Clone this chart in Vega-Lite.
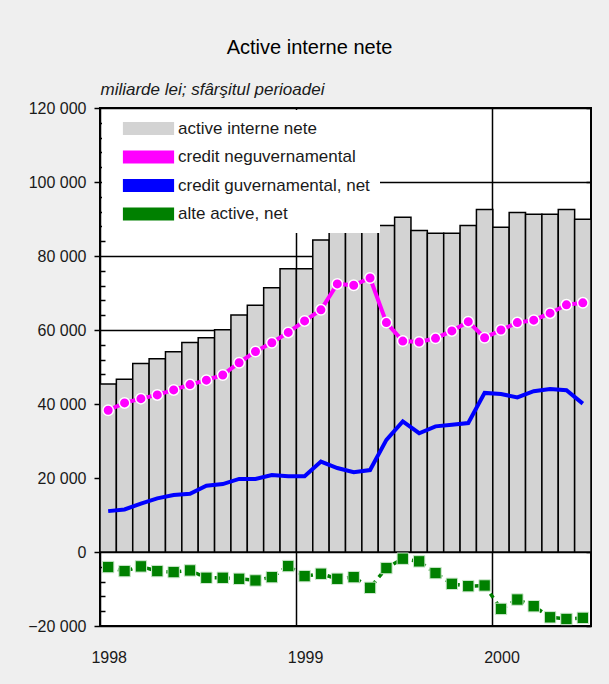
{
  "$schema": "https://vega.github.io/schema/vega-lite/v6.json",
  "width": 491,
  "height": 518,
  "autosize": {"type": "none"},
  "padding": {"left": 100, "top": 108, "right": 18, "bottom": 58},
  "background": "#efefef",
  "title": {
    "text": "Active interne nete",
    "anchor": "middle",
    "dx": -36,
    "fontSize": 20,
    "fontWeight": "normal",
    "font": "Liberation Sans",
    "color": "black",
    "offset": 22
  },
  "data": {
    "values": [
      {"m": "1998-01", "a": 45400, "n": 38300, "g": 11050, "o": -4070},
      {"m": "1998-02", "a": 46700, "n": 40300, "g": 11500, "o": -5160},
      {"m": "1998-03", "a": 50960, "n": 41450, "g": 13100, "o": -3890},
      {"m": "1998-04", "a": 52200, "n": 42450, "g": 14500, "o": -5160},
      {"m": "1998-05", "a": 54100, "n": 43800, "g": 15400, "o": -5430},
      {"m": "1998-06", "a": 56650, "n": 45250, "g": 15750, "o": -4980},
      {"m": "1998-07", "a": 57900, "n": 46450, "g": 17900, "o": -6970},
      {"m": "1998-08", "a": 60100, "n": 47850, "g": 18350, "o": -6970},
      {"m": "1998-09", "a": 64050, "n": 51150, "g": 19750, "o": -7240},
      {"m": "1998-10", "a": 66700, "n": 54200, "g": 19750, "o": -7690},
      {"m": "1998-11", "a": 71400, "n": 56550, "g": 20800, "o": -6790},
      {"m": "1998-12", "a": 76550, "n": 59350, "g": 20450, "o": -3800},
      {"m": "1999-01", "a": 76550, "n": 62450, "g": 20450, "o": -6520},
      {"m": "1999-02", "a": 84350, "n": 65450, "g": 24450, "o": -5880},
      {"m": "1999-03", "a": 88300, "n": 72450, "g": 22700, "o": -7240},
      {"m": "1999-04", "a": 87000, "n": 72100, "g": 21550, "o": -6790},
      {"m": "1999-05", "a": 87000, "n": 74050, "g": 22150, "o": -9680},
      {"m": "1999-06", "a": 88250, "n": 62000, "g": 30300, "o": -4340},
      {"m": "1999-07", "a": 90500, "n": 57000, "g": 35300, "o": -1810},
      {"m": "1999-08", "a": 86900, "n": 56750, "g": 32100, "o": -2530},
      {"m": "1999-09", "a": 86150, "n": 57750, "g": 33950, "o": -5700},
      {"m": "1999-10", "a": 86150, "n": 59750, "g": 34400, "o": -8600},
      {"m": "1999-11", "a": 88250, "n": 62250, "g": 34850, "o": -9230},
      {"m": "1999-12", "a": 92550, "n": 57900, "g": 43000, "o": -9050},
      {"m": "2000-01", "a": 87800, "n": 60000, "g": 42700, "o": -15380},
      {"m": "2000-02", "a": 91750, "n": 62000, "g": 41800, "o": -12850},
      {"m": "2000-03", "a": 91300, "n": 62650, "g": 43450, "o": -14650},
      {"m": "2000-04", "a": 91300, "n": 64550, "g": 44050, "o": -17650},
      {"m": "2000-05", "a": 92550, "n": 66800, "g": 43700, "o": -18100},
      {"m": "2000-06", "a": 89950, "n": 67350, "g": 40100, "o": -17800}
    ]
  },
  "encoding": {
    "x": {
      "field": "m",
      "type": "ordinal",
      "scale": {"paddingInner": 0, "paddingOuter": 0},
      "axis": {
        "title": null,
        "values": ["1998-01", "1999-01", "2000-01"],
        "bandPosition": 0,
        "labelExpr": "substring(datum.value, 0, 4)",
        "labelAngle": 0,
        "labelOffset": 1,
        "labelPadding": 23,
        "labelFontSize": 16,
        "labelColor": "#1a1a1a",
        "ticks": false,
        "domain": false,
        "grid": true,
        "gridColor": "black",
        "gridWidth": 1.5,
        "gridOpacity": 1
      }
    }
  },
  "layer": [
    {
      "mark": {"type": "bar", "stroke": "black", "strokeWidth": 1.5},
      "encoding": {
        "y": {
          "field": "a",
          "type": "quantitative",
          "scale": {"domain": [-20000, 120000], "nice": false},
          "axis": {
            "orient": "left",
            "title": "miliarde lei; sfârşitul perioadei",
            "titleAngle": 0,
            "titleAlign": "left",
            "titleBaseline": "alphabetic",
            "titleX": 0,
            "titleY": -14,
            "titleFontSize": 17,
            "titleFontStyle": "italic",
            "titleFontWeight": "normal",
            "titleColor": "#1a1a1a",
            "values": [-20000, -16000, -12000, -8000, -4000, 0, 4000, 8000, 12000, 16000, 20000, 24000, 28000, 32000, 36000, 40000, 44000, 48000, 52000, 56000, 60000, 64000, 68000, 72000, 76000, 80000, 84000, 88000, 92000, 96000, 100000, 104000, 108000, 112000, 116000, 120000],
            "tickCount": 100,
            "labelExpr": "datum.value % 20000 === 0 ? replace(format(datum.value, ',d'), ',', ' ') : ''",
            "labelOverlap": false,
            "labelFlush": false,
            "labelFontSize": 16,
            "labelColor": "#1a1a1a",
            "labelPadding": 8,
            "domain": false,
            "tickColor": "black",
            "tickWidth": 1.5,
            "tickSize": {"condition": {"test": "datum.value % 20000 === 0", "value": 6}, "value": -5},
            "grid": true,
            "gridColor": "black",
            "gridWidth": 1.5,
            "gridOpacity": {"condition": {"test": "datum.value % 20000 === 0", "value": 1}, "value": 0}
          }
        },
        "color": {
          "datum": "active interne nete",
          "legend": {
            "title": null,
            "orient": "top-left",
            "offset": 2,
            "padding": 10,
            "symbolOffset": 28,
            "fillColor": "white",
            "labelFontSize": 17,
            "labelColor": "#1a1a1a",
            "labelOffset": 21,
            "rowPadding": 10.5,
            "symbolSize": 196,
            "symbolType": "M-3.571,-0.85H3.571V0.85H-3.571Z",
            "symbolStrokeColor": "black",
            "symbolStrokeWidth": 1.2,
            "symbolOpacity": 1,
            "labelLimit": 400
          }
        }
      }
    },
    {
      "mark": {
        "type": "line",
        "strokeWidth": 4,
        "point": {"filled": true, "shape": "circle", "size": 110, "stroke": "white", "strokeWidth": 1.5}
      },
      "encoding": {
        "y": {
          "field": "n",
          "type": "quantitative",
          "axis": {
            "orient": "right",
            "title": null,
            "values": [-20000, 0, 20000, 40000, 60000, 80000, 100000, 120000],
            "tickCount": 100,
            "labels": false,
            "domain": false,
            "grid": false,
            "tickColor": "black",
            "tickWidth": 1.5,
            "tickSize": -5
          }
        },
        "color": {"datum": "credit neguvernamental", "legend": null}
      }
    },
    {
      "mark": {"type": "line", "strokeWidth": 4},
      "encoding": {
        "y": {"field": "g", "type": "quantitative", "axis": null},
        "color": {"datum": "credit guvernamental, net", "legend": null}
      }
    },
    {
      "mark": {
        "type": "line",
        "strokeWidth": 3.5,
        "strokeDash": [5, 5],
        "point": {"filled": true, "shape": "square", "size": 130, "stroke": "#cfe8cf", "strokeWidth": 1}
      },
      "encoding": {
        "y": {"field": "o", "type": "quantitative", "axis": null},
        "color": {"datum": "alte active, net", "legend": null}
      }
    }
  ],
  "resolve": {"scale": {"y": "shared"}, "axis": {"y": "independent"}},
  "config": {
    "font": "Liberation Sans",
    "view": {"stroke": "black", "strokeWidth": 2, "fill": "white"},
    "range": {
      "category": ["#d3d3d3", "#ff00ff", "#0000ff", "#008000"]
    }
  }
}
